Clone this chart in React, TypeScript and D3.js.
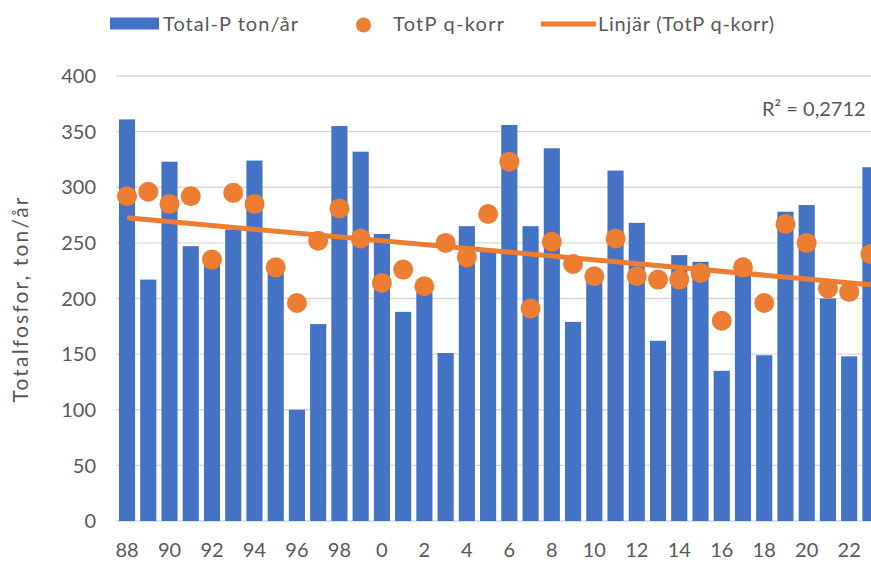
import React from "react";
import * as d3 from "d3";

const years: number[] = [
  1988, 1989, 1990, 1991, 1992, 1993, 1994, 1995, 1996, 1997, 1998, 1999,
  2000, 2001, 2002, 2003, 2004, 2005, 2006, 2007, 2008, 2009, 2010, 2011,
  2012, 2013, 2014, 2015, 2016, 2017, 2018, 2019, 2020, 2021, 2022, 2023,
];

const totalP: number[] = [
  361, 217, 323, 247, 232, 262, 324, 224, 100, 177, 355, 332,
  258, 188, 206, 151, 265, 242, 356, 265, 335, 179, 216, 315,
  268, 162, 239, 233, 135, 227, 149, 278, 284, 200, 148, 318,
];

const totPqKorr: number[] = [
  292, 296, 285, 292, 235, 295, 285, 228, 196, 252, 281, 254,
  214, 226, 211, 250, 237, 276, 323, 191, 251, 231, 220, 254,
  220, 217, 217, 223, 180, 228, 196, 267, 250, 209, 206, 240,
];

const yTicks: number[] = [0, 50, 100, 150, 200, 250, 300, 350, 400];

const legendLabels: string[] = ["Total-P ton/år", "TotP q-korr", "Linjär (TotP q-korr)"];
const yTitle = "Totalfosfor, ton/år";
const r2Label = "R² = 0,2712";

const W = 871;
const H = 562;
const BLUE = "#4472C4";
const ORANGE = "#ED7D31";
const TEXT = "#595959";
const GRID = "#D9D9D9";
const FONT = "Lato, 'Open Sans', sans-serif";

export default function App() {
  const x = d3
    .scaleBand<number>()
    .domain(years)
    .range([116.4, 116.4 + years.length * 21.24])
    .paddingInner(0.24)
    .paddingOuter(0.12);
  const y = d3.scaleLinear().domain([0, 400]).range([521, 76]);
  const cx = (yr: number) => (x(yr) as number) + x.bandwidth() / 2;

  // linear regression of TotP q-korr over index
  const n = totPqKorr.length;
  const idx = d3.range(n);
  const mx = d3.mean(idx) as number;
  const my = d3.mean(totPqKorr) as number;
  const sxy = d3.sum(idx, (i) => (i - mx) * (totPqKorr[i] - my));
  const sxx = d3.sum(idx, (i) => (i - mx) * (i - mx));
  const slope = sxy / sxx;
  const icpt = my - slope * mx;
  const trend = [0, n - 1].map((i) => [cx(years[i]), y(icpt + slope * i)] as [number, number]);
  const lineGen = d3.line();

  return (
    <svg
      width={W}
      height={H}
      style={{ position: "absolute", left: 0, top: 0, background: "#fff" }}
      fontFamily={FONT}
    >
      <rect x={0} y={0} width={W} height={H} fill="#fff" />
      {yTicks.map((t) => (
        <line
          key={t}
          x1={116}
          x2={W}
          y1={y(t)}
          y2={y(t)}
          stroke={GRID}
          strokeWidth={1.3}
        />
      ))}
      {yTicks.map((t) => (
        <text key={t} x={96} y={y(t)} dy="0.36em" textAnchor="end" fontSize={20} fill={TEXT}>
          {t}
        </text>
      ))}
      {years.map((yr, i) => (
        <rect
          key={yr}
          x={x(yr)}
          y={y(totalP[i])}
          width={x.bandwidth()}
          height={y(0) - y(totalP[i])}
          fill={BLUE}
        />
      ))}
      <path d={lineGen(trend) || ""} stroke={ORANGE} strokeWidth={5} fill="none" />
      {years.map((yr, i) => (
        <circle key={yr} cx={cx(yr)} cy={y(totPqKorr[i])} r={10} fill={ORANGE} />
      ))}
      {years.map((yr, i) =>
        i % 2 === 0 ? (
          <text key={yr} x={cx(yr)} y={557} textAnchor="middle" fontSize={20} fill={TEXT}>
            {String(yr % 100)}
          </text>
        ) : null
      )}
      <text
        transform={`translate(28,300) rotate(-90)`}
        textAnchor="middle"
        fontSize={21}
        fill={TEXT}
        textLength={205}
        lengthAdjust="spacing"
      >
        {yTitle}
      </text>
      <text x={762} y={116} fontSize={20} fill={TEXT}>
        {r2Label}
      </text>
      <rect x={110} y={17.5} width={49} height={12} fill={BLUE} />
      <text x={163} y={31} fontSize={20} fill={TEXT} textLength={135} lengthAdjust="spacing">
        {legendLabels[0]}
      </text>
      <circle cx={363.5} cy={25} r={7.5} fill={ORANGE} />
      <text x={393} y={31} fontSize={20} fill={TEXT} textLength={111} lengthAdjust="spacing">
        {legendLabels[1]}
      </text>
      <line x1={541} x2={596} y1={24} y2={24} stroke={ORANGE} strokeWidth={5} />
      <text x={598} y={31} fontSize={20} fill={TEXT} textLength={176} lengthAdjust="spacing">
        {legendLabels[2]}
      </text>
    </svg>
  );
}
